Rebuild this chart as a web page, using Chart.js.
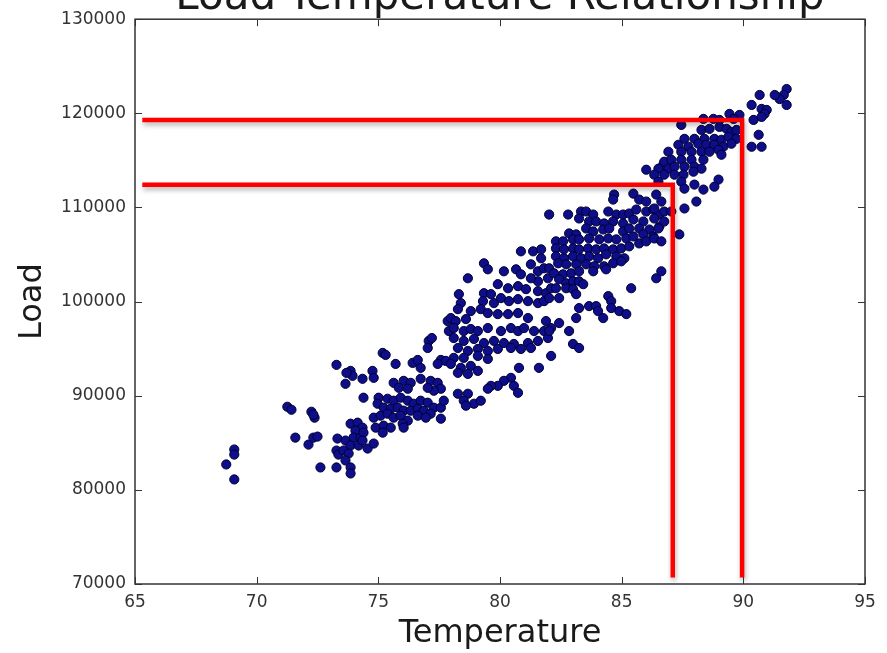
<!DOCTYPE html>
<html>
<head>
<meta charset="utf-8">
<title>Load-Temperature Relationship</title>
<script src="https://cdn.jsdelivr.net/npm/chart.js@4.4.1/dist/chart.umd.min.js"></script>
<style>
  html, body { margin: 0; padding: 0; background: #fff; }
  #chart { display: block; }
</style>
</head>
<body>
<canvas id="chart" width="887" height="653"></canvas>
<script>
// [temperature, load]
const readings = [
  // far left
  [73.28,93280],[71.26,88830],[71.43,88510],[72.25,88300],[72.38,87670],[72.33,87990],[71.59,85550],
  [72.13,84810],[72.33,85550],[72.50,85660],[73.32,85450],[73.28,84180],[73.36,83750],[72.62,82380],
  [73.28,82380],[69.08,84290],[69.08,83750],[68.75,82700],[69.08,81110],
  // 73-78
  [75.18,94550],[75.30,94340],[75.71,93380],[76.41,93490],[76.62,93800],[76.74,92960],[77.07,95820],
  [77.20,96130],[77.03,95070],[77.57,93800],[77.77,93700],[77.44,93380],[77.85,97930],[77.90,96870],
  [73.86,92640],[73.94,92110],[73.65,91270],[73.69,92430],[74.35,91800],[74.76,92640],[74.81,91900],[74.39,89790],
  [75.63,91370],[76.04,91580],[76.33,91370],[76.21,90740],[75.84,90840],[76.74,91800],[77.15,91580],
  [77.44,91370],[77.57,90740],[77.28,90530],[77.03,90840],
  [75.01,89790],[75.38,89680],[75.63,89470],[75.92,89790],[76.21,89470],[76.45,89150],[76.74,89470],
  [77.03,89260],[77.28,88730],[77.57,88730],[77.69,89470],
  [74.97,89150],[75.22,88730],[75.51,88620],[75.80,88730],[76.04,88410],[76.33,88410],[76.62,88620],
  [76.87,88410],[77.15,88090],
  [74.81,87670],[75.09,87880],[75.38,88090],[75.63,87670],[75.92,87880],[76.21,87350],[76.62,87880],
  [76.95,87670],[77.57,87560],
  [74.89,86610],[75.22,86820],[75.51,86610],[75.18,86080],[76.00,87030],[76.04,86610],
  [73.86,87030],[74.15,87140],[74.35,86610],[74.06,86290],[73.98,85550],[74.27,85550],[74.39,86080],
  [73.65,85240],[73.86,84710],[73.57,84180],[73.78,83860],[74.19,84710],[74.35,85240],[74.56,84390],
  [74.81,84920],[73.65,83120],[73.86,82380],[73.86,81740],
  // 78-82
  [80.86,105340],[81.36,105340],[81.69,105550],[81.69,104600],[79.34,104070],[79.50,103430],[80.16,103220],
  [80.66,103430],[80.86,102900],[78.68,102480],[81.27,103960],[81.56,103220],[81.81,103540],[81.97,102480],
  [81.56,102160],[81.27,102480],
  [79.91,101850],[80.33,101420],[80.74,101640],[81.07,101320],[81.56,101110],[81.89,100890],[82.10,101420],
  [79.34,100890],[79.63,100790],[79.30,100050],[79.75,99840],[80.04,100370],[80.37,100050],[80.74,100260],
  [81.15,100050],[81.56,99840],[81.81,100050],[78.31,100790],[78.39,99840],[78.27,99200],
  [78.80,98990],[79.21,99200],[79.50,98780],[79.91,98670],[80.33,98670],[80.74,98780],[81.15,98250],
  [77.98,98250],[78.18,97930],[78.60,98140],
  [78.10,97190],[78.51,96870],[78.80,97090],[79.09,96870],[79.50,97190],[80.04,96870],[80.45,97190],
  [80.74,96870],[80.99,97190],[81.40,96870],[81.81,96870],[82.10,97190],
  [78.10,96130],[78.51,95820],[78.93,96030],[79.34,95600],[79.75,95820],[80.16,95600],[80.57,95500],
  [81.15,95600],[81.56,95820],[81.97,96130],
  [78.27,95070],[78.68,94760],[79.09,94970],[79.50,94760],[79.91,94970],[80.45,95070],[80.86,94970],[81.27,95070],
  [78.10,94020],[78.51,94020],[79.09,94230],[79.50,93910],[77.98,93380],[78.39,92960],[78.80,93170],
  [78.27,92430],[78.68,92320],[79.09,92640],[80.78,92960],[81.60,92960],
  [80.45,91900],[80.16,91580],[79.91,91050],[79.63,91050],[79.50,90740],[80.57,91050],[80.74,90310],
  [78.68,90210],[78.27,90210],[78.51,89470],[78.93,89150],[79.21,89470],[82.10,94230],[78.60,88940],
  // 82-86.5
  [86.01,114010],[86.71,114540],[84.69,111370],[84.65,110840],[85.48,111470],[85.72,110840],[86.01,110630],
  [86.42,111370],[86.63,110630],
  [82.02,109250],[82.80,109250],[83.33,109570],[83.54,109570],[83.83,109250],[84.45,109570],[84.78,109250],
  [85.06,109250],[85.31,109360],[85.60,109780],[86.01,109570],[86.30,109780],[86.55,109250],
  [83.25,108830],[83.66,108510],[83.95,108510],[84.28,108300],[84.65,108510],[85.06,108300],[85.48,108720],
  [85.89,108510],
  [83.54,107770],[83.83,107450],[84.24,107660],[84.49,107770],[85.06,107450],[85.31,107770],[85.72,107770],
  [86.14,107660],[86.55,107980],[82.84,107240],[83.13,107140],
  [82.30,106400],[82.59,106400],[83.00,106610],[83.25,106610],[83.66,106710],[84.08,106610],[84.45,106710],
  [84.78,106610],[85.19,106710],[85.48,106920],[85.89,107140],[86.30,106920],
  [82.30,105650],[82.63,105550],[83.00,105650],[83.25,105550],[83.62,105650],[83.95,105550],[84.28,105650],
  [84.65,105550],[84.98,105650],[85.31,105870],[85.72,106180],[86.01,106400],
  [82.30,104810],[82.63,104600],[83.00,104810],[83.33,104600],[83.66,104810],[84.03,104600],[84.36,105020],
  [84.78,104810],[85.11,104600],
  [82.39,104070],[82.72,103960],[83.13,103960],[83.54,103960],[83.87,103750],[84.28,103750],[84.65,104070],
  [84.98,104280],
  [82.02,103540],[82.22,103010],[82.59,102900],[82.92,103010],[83.25,103220],[83.83,103220],[84.36,103430],
  [82.43,102370],[82.72,101950],[83.00,102160],[83.25,102160],[83.42,101850],
  [82.30,101420],[82.72,101420],[83.00,101320],[82.02,100370],[82.43,100370],[83.13,100790],
  [84.45,100580],[84.57,100050],[84.57,99310],[85.39,101420],[86.42,102480],[86.63,103220],
  [83.25,99310],[83.66,99520],[83.95,99520],[84.03,98990],[84.24,98250],[84.90,98990],[85.19,98670],
  [83.13,98250],[82.43,97720],[82.84,96870],[82.02,96870],[81.89,97930],[83.00,95500],[83.25,95070],
  // 86.5-92
  [91.78,122580],[91.66,121950],[91.78,120890],[91.49,121520],[91.29,121950],[90.67,121950],
  [90.34,120890],[90.75,120470],[90.96,120360],[90.87,119940],[90.42,119300],[90.75,119620],
  [89.43,119940],[89.84,119830],[89.60,119410],[88.36,119410],[88.77,119410],[89.02,119300],[87.45,118770],
  [90.63,117720],[90.34,116450],[90.75,116450],
  [88.28,118240],[88.61,118350],[89.02,118560],[89.31,118350],[89.51,118030],[89.72,118240],
  [87.58,117290],[87.99,117290],[88.40,117290],[88.81,117290],[89.10,117190],[89.39,117500],[89.72,117290],
  [87.33,116660],[87.74,116450],[88.15,116770],[88.48,116660],[88.81,116660],[89.18,116450],[89.51,116770],
  [86.92,115920],[87.45,115920],[87.87,115920],[88.28,115920],[88.61,115920],[88.98,116130],[89.10,115600],
  [86.75,114860],[87.04,115070],[87.45,115070],[87.87,115070],[88.36,115070],
  [86.51,114120],[86.92,114120],[87.17,114330],[87.58,114330],[87.99,114330],[88.28,114120],
  [86.34,113480],[86.75,113480],[87.17,113480],[87.54,113480],[87.95,113800],
  [86.51,112740],[87.45,112740],[87.58,112000],[87.99,112430],[88.36,111900],[88.98,112960],[88.81,112210],
  [86.34,109890],[86.75,109570],[87.04,109570],[87.58,109890],[88.07,110630],
  [86.34,108830],[86.75,108510],[86.51,107770],[86.34,106710],[86.63,106400],[87.37,107140]
];

// red guide lines
const outerLineT = [65.3, 89.95, 89.95];
const outerLineL = [119300, 119300, 70700];
const innerLineT = [65.3, 87.1, 87.1];
const innerLineL = [112400, 112400, 70700];

const xTicks = [65, 70, 75, 80, 85, 90, 95];
const yTicks = [70000, 80000, 90000, 100000, 110000, 120000, 130000];

const FONT = "'DejaVu Sans', Verdana, sans-serif";

const toXY = (ts, ls) => ts.map((t, i) => ({ x: t, y: ls[i] }));

// shadow under the red lines
const shadowPlugin = {
  id: "shadow",
  beforeDatasetDraw(chart, args) {
    if (!args.meta._dataset.shadow) return;
    const ctx = chart.ctx;
    ctx.save();
    ctx.shadowColor = "rgba(0,0,0,0.3)";
    ctx.shadowBlur = 5;
    ctx.shadowOffsetX = 1;
    ctx.shadowOffsetY = 3;
  },
  afterDatasetDraw(chart, args) {
    if (!args.meta._dataset.shadow) return;
    chart.ctx.restore();
  }
};

// matplotlib-like frame with inward ticks on all four sides, plus title
const framePlugin = {
  id: "frame",
  afterDraw(chart) {
    const { ctx, chartArea: a, scales } = chart;
    ctx.save();
    ctx.strokeStyle = "#333";
    ctx.lineWidth = 1.5;
    ctx.strokeRect(a.left, a.top, a.right - a.left, a.bottom - a.top);
    ctx.lineWidth = 1;
    ctx.beginPath();
    xTicks.forEach(v => {
      const px = Math.round(scales.x.getPixelForValue(v)) + 0.5;
      ctx.moveTo(px, a.bottom); ctx.lineTo(px, a.bottom - 7);
      ctx.moveTo(px, a.top); ctx.lineTo(px, a.top + 7);
    });
    yTicks.forEach(v => {
      const py = Math.round(scales.y.getPixelForValue(v)) + 0.5;
      ctx.moveTo(a.left, py); ctx.lineTo(a.left + 7, py);
      ctx.moveTo(a.right, py); ctx.lineTo(a.right - 7, py);
    });
    ctx.stroke();

    ctx.fillStyle = "#1a1a1a";
    ctx.font = "42px " + FONT;
    ctx.textAlign = "center";
    ctx.textBaseline = "alphabetic";
    ctx.fillText("Load-Temperature Relationship", (a.left + a.right) / 2, 9);
    ctx.restore();
  }
};

new Chart(document.getElementById("chart"), {
  type: "scatter",
  data: {
    datasets: [
      {
        type: "line",
        data: toXY(outerLineT, outerLineL),
        borderColor: "#ff0000",
        borderWidth: 4.5,
        pointRadius: 0,
        fill: false,
        shadow: true
      },
      {
        type: "line",
        data: toXY(innerLineT, innerLineL),
        borderColor: "#ff0000",
        borderWidth: 4.5,
        pointRadius: 0,
        fill: false,
        shadow: true
      },
      {
        data: readings.map(r => ({ x: r[0], y: r[1] })),
        backgroundColor: "#0e0e8a",
        borderColor: "#000030",
        borderWidth: 1,
        pointRadius: 4.6,
        pointHoverRadius: 4.6
      }
    ]
  },
  options: {
    responsive: false,
    animation: false,
    layout: { padding: { top: 16, right: 22, left: 0, bottom: 0 } },
    plugins: {
      legend: { display: false },
      tooltip: { enabled: false }
    },
    scales: {
      x: {
        type: "linear",
        min: 65,
        max: 95,
        afterBuildTicks: s => { s.ticks = xTicks.map(v => ({ value: v })); },
        afterFit: s => { s.height = 69; },
        grid: { display: false, drawTicks: false },
        border: { display: false },
        ticks: {
          padding: 8,
          color: "#333",
          font: { family: FONT, size: 17 },
          maxRotation: 0,
          callback: v => String(v)
        },
        title: {
          display: true,
          text: "Temperature",
          color: "#1a1a1a",
          font: { family: FONT, size: 32 },
          padding: { top: 0, bottom: 0 }
        }
      },
      y: {
        type: "linear",
        min: 70000,
        max: 130000,
        afterBuildTicks: s => { s.ticks = yTicks.map(v => ({ value: v })); },
        afterFit: s => { s.width = 135; },
        grid: { display: false, drawTicks: false },
        border: { display: false },
        ticks: {
          padding: 9,
          color: "#333",
          font: { family: FONT, size: 17 },
          callback: v => String(v)
        },
        title: {
          display: true,
          text: "Load",
          color: "#1a1a1a",
          font: { family: FONT, size: 32 },
          padding: { top: 13, bottom: 0 }
        }
      }
    }
  },
  plugins: [shadowPlugin, framePlugin]
});
</script>
</body>
</html>
